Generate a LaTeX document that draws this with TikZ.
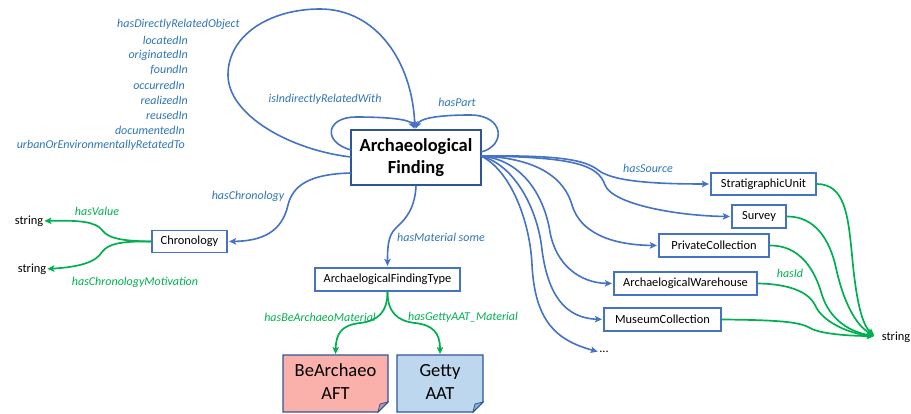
\documentclass[tikz,border=0pt]{standalone}
\usepackage{fontspec}
\setmainfont{Carlito}
\usetikzlibrary{arrows.meta}
\definecolor{lblue}{HTML}{4472C4}
\definecolor{dblue}{HTML}{2F5597}
\definecolor{tblue}{HTML}{2E75B6}
\definecolor{ggreen}{HTML}{00B050}
\definecolor{pinkfill}{HTML}{FAB1AB}
\definecolor{bluefill}{HTML}{BDD7EE}
\begin{document}
\begin{tikzpicture}[x=1pt,y=-1pt,
  rel/.style={draw=lblue, line width=1.6pt, shorten >=1.5pt, -{Stealth[length=7pt,width=6.5pt,inset=1.5pt]}},
  grel/.style={draw=ggreen, line width=1.7pt, shorten >=1pt, -{Stealth[length=7pt,width=6.5pt,inset=1.5pt]}},
  lbl/.style={font=\fontsize{12}{14}\selectfont\itshape, text=tblue, inner sep=0pt},
  glbl/.style={font=\fontsize{12}{14}\selectfont\itshape, text=ggreen, inner sep=0pt},
  cls/.style={draw=lblue, line width=1.2pt, fill=white, inner sep=0pt, font=\fontsize{12.4}{15}\selectfont},
  lit/.style={font=\fontsize{12.4}{15}\selectfont, inner sep=0pt},
  doc/.style={inner sep=0pt, align=center, font=\fontsize{18.5}{23}\selectfont}
]
\useasboundingbox (0,0) rectangle (911,414);

% document shapes
\filldraw[fill=pinkfill, draw=dblue, line width=1.1pt] (283,355) -- (388,355) -- (388,402) -- (378,412) -- (283,412) -- cycle;
\filldraw[fill=pinkfill!70!dblue, draw=dblue, line width=0.8pt] (378,412) -- (380,404) -- (388,402) -- cycle;
\filldraw[fill=bluefill, draw=dblue, line width=1.1pt] (397,355) -- (483,355) -- (483,402) -- (473,412) -- (397,412) -- cycle;
\filldraw[fill=bluefill!70!dblue, draw=dblue, line width=0.8pt] (473,412) -- (475,404) -- (483,402) -- cycle;
\node[doc] (bea) at (335.5,382) {BeArchaeo\\AFT};
\node[doc] (aat) at (440,382) {Getty\\AAT};

% main node
\node[draw=dblue, line width=1.3pt, fill=white, minimum width=130pt, minimum height=55pt, inner sep=0pt, align=center,
      font=\fontsize{18.5}{22}\selectfont\bfseries] (main) at (416,157.5) {Archaeological\\Finding};

% class nodes
\node[cls, minimum width=145pt, minimum height=23pt] (type) at (387.5,279.5) {ArchaelogicalFindingType};
\node[cls, minimum width=75pt, minimum height=22pt] (chron) at (189.5,241.5) {Chronology};
\node[cls, minimum width=105pt, minimum height=22pt] (strat) at (763.5,184) {StratigraphicUnit};
\node[cls, minimum width=54pt, minimum height=23pt] (survey) at (759,216.5) {Survey};
\node[cls, minimum width=110pt, minimum height=23pt] (priv) at (714,245.5) {PrivateCollection};
\node[cls, minimum width=143pt, minimum height=23pt] (ware) at (685.5,283.5) {ArchaelogicalWarehouse};
\node[cls, minimum width=117pt, minimum height=23pt] (mus) at (662.5,319.5) {MuseumCollection};
\node[lit] (dots) at (604,352) {...};

% literals
\node[lit] (s1) at (29,221) {string};
\node[lit] (s2) at (32,269) {string};
\node[lit] (s3) at (896,337) {string};

% labels
\node[lbl] (l0) at (178.5,24) {hasDirectlyRelatedObject};
\node[lbl, anchor=east] (l1) at (188,40) {locatedIn};
\node[lbl, anchor=east] (l2) at (188,55) {originatedIn};
\node[lbl, anchor=east] (l3) at (188,70) {foundIn};
\node[lbl, anchor=east] (l4) at (185,85) {occurredIn};
\node[lbl, anchor=east] (l5) at (188,100) {realizedIn};
\node[lbl, anchor=east] (l6) at (188,115) {reusedIn};
\node[lbl, anchor=east] (l7) at (185,130) {documentedIn};
\node[lbl, anchor=east] (l8) at (185,145) {urbanOrEnvironmentallyRetatedTo};
\node[lbl] (lind) at (325,99) {isIndirectlyRelatedWith};
\node[lbl] (lpart) at (457,102) {hasPart};
\node[lbl] (lchr) at (248,196) {hasChronology};
\node[lbl] (lmat) at (441,237) {hasMaterial some};
\node[lbl] (lsrc) at (648,168) {hasSource};
\node[glbl] (lval) at (97,211) {hasValue};
\node[glbl] (lmot) at (135,282) {hasChronologyMotivation};
\node[glbl] (lbe) at (320,317) {hasBeArchaeoMaterial};
\node[glbl] (lget) at (463,317) {hasGettyAAT\_Material};
\node[glbl] (lid) at (790,273) {hasId};

% coordinates
\coordinate (top) at (415,130);
\coordinate (lft) at (351,157);
\coordinate (lft2) at (351,150);
\coordinate (rgt) at (481,152);
\coordinate (fs) at (481,156);
\coordinate (conv) at (875,336);

% self loops
\draw[rel] (lft) .. controls (290,150) and (228,115) .. (228,75)
  .. controls (228,35) and (270,9) .. (320,9)
  .. controls (375,9) and (412,60) .. (top);
\draw[rel] (lft2) .. controls (322,142) and (326,117) .. (356,117)
  .. controls (385,117) and (410,119) .. (top);
\draw[rel] (rgt) .. controls (506,146) and (505,115) .. (470,115)
  .. controls (440,115) and (420,118) .. (top);

% chronology
\draw[rel] (351,173) .. controls (310,174) and (293,185) .. (288,205)
  .. controls (282,232) and (262,241) .. (chron.east);
\draw[grel] (chron.west) .. controls (120,241) and (108,238) .. (102,230)
  .. controls (96,222) and (80,220) .. (s1.east);
\draw[grel] (chron.west) .. controls (120,241) and (108,244) .. (102,252)
  .. controls (96,262) and (80,267) .. (s2.east);

% material
\draw[rel] (main.south) .. controls (415,212) and (402,222) .. (395,229)
  .. controls (388,236) and (387.5,248) .. (type.north);
\draw[grel] (type.south) .. controls (387.5,312) and (378,321) .. (360,323)
  .. controls (342,325) and (336,333) .. (bea.north |- 0,355);
\draw[grel] (type.south) .. controls (387.5,312) and (397,321) .. (415,323)
  .. controls (433,325) and (440,333) .. (aat.north |- 0,355);

% sources
\draw[rel] (fs) .. controls (560,155) and (585,160) .. (598,170)
  .. controls (612,181) and (650,184) .. (strat.west);
\draw[rel] (fs) .. controls (575,157) and (598,165) .. (605,185)
  .. controls (613,205) and (680,216) .. (survey.west);
\draw[rel] (fs) .. controls (540,158) and (565,180) .. (572,205)
  .. controls (580,232) and (610,245) .. (priv.west);
\draw[rel] (fs) .. controls (525,160) and (545,200) .. (550,232)
  .. controls (556,265) and (580,283) .. (ware.west);
\draw[rel] (fs) .. controls (515,165) and (538,210) .. (542,250)
  .. controls (548,295) and (565,318) .. (mus.west);
\draw[rel] (fs) .. controls (510,170) and (530,220) .. (532,265)
  .. controls (535,320) and (555,340) .. (dots.west);

% hasId
\draw[grel] (strat.east) .. controls (845,184) and (848,215) .. (852,255)
  .. controls (856,300) and (862,325) .. (conv);
\draw[grel] (survey.east) .. controls (815,216) and (830,240) .. (836,268)
  .. controls (843,300) and (855,325) .. (conv);
\draw[grel] (priv.east) .. controls (800,245) and (815,270) .. (822,295)
  .. controls (830,320) and (850,332) .. (conv);
\draw[grel] (ware.east) .. controls (795,284) and (810,295) .. (815,305)
  .. controls (822,322) and (850,334) .. (conv);
\draw[grel] (mus.east) .. controls (780,320) and (800,322) .. (810,328)
  .. controls (820,334) and (850,336) .. (conv);
\end{tikzpicture}
\end{document}
